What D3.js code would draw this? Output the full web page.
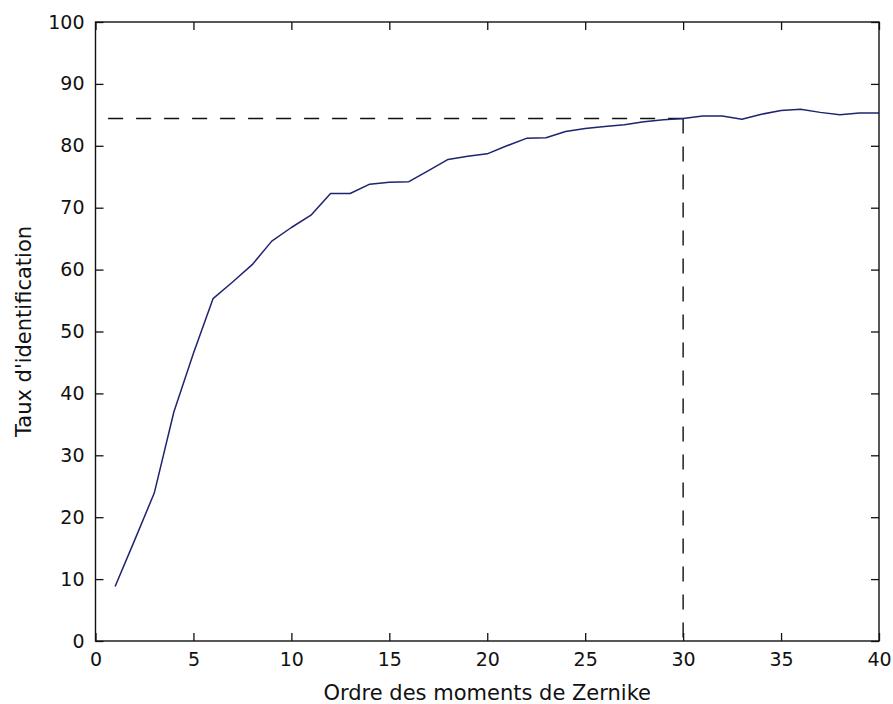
<!DOCTYPE html>
<html>
<head>
<meta charset="utf-8">
<script src="https://cdn.jsdelivr.net/npm/d3@7"></script>
<style>
  html, body { margin: 0; padding: 0; background: #fff; }
  svg { display: block; }
  text { font-family: "DejaVu Sans", "Liberation Sans", Arial, sans-serif; fill: #111; }
</style>
</head>
<body>
<svg id="chart" width="893" height="704"></svg>
<script>
// Zernike moment order vs. identification rate (%)
const orders = [1, 2, 3, 4, 5, 6, 7, 8, 9, 10,
                11, 12, 13, 14, 15, 16, 17, 18, 19, 20,
                21, 22, 23, 24, 25, 26, 27, 28, 29, 30,
                31, 32, 33, 34, 35, 36, 37, 38, 39, 40];
const rates = [8.8, 16.3, 23.9, 37.0, 46.5, 55.3, 58.0, 60.8, 64.6, 66.8,
               68.8, 72.3, 72.3, 73.8, 74.1, 74.2, 76.0, 77.8, 78.3, 78.7,
               80.0, 81.2, 81.3, 82.3, 82.8, 83.1, 83.4, 83.9, 84.2, 84.4,
               84.8, 84.8, 84.3, 85.1, 85.7, 85.9, 85.4, 85.0, 85.3, 85.3];

// Chosen operating point: order 30 reaches about 84.4 %
const markOrder = 30;
const markRate = 84.4;

const xTicks = [0, 5, 10, 15, 20, 25, 30, 35, 40];
const yTicks = [0, 10, 20, 30, 40, 50, 60, 70, 80, 90, 100];

const xTitle = "Ordre des moments de Zernike";
const yTitle = "Taux d'identification";

const svg = d3.select("#chart");
const plotL = 95.5, plotR = 879, plotT = 22, plotB = 641;

const x = d3.scaleLinear().domain([0, 40]).range([plotL, plotR]);
const y = d3.scaleLinear().domain([0, 100]).range([plotB, plotT]);

// Dashed guides to the operating point
const guides = svg.append("g")
  .attr("fill", "none")
  .attr("stroke", "#111")
  .attr("stroke-width", 1.4)
  .attr("stroke-dasharray", "15,13");
guides.append("line")
  .attr("x1", x(markOrder)).attr("y1", y(markRate))
  .attr("x2", x(0)).attr("y2", y(markRate));
guides.append("line")
  .attr("x1", x(markOrder)).attr("y1", y(markRate))
  .attr("x2", x(markOrder)).attr("y2", y(0));

// Data curve
const line = d3.line()
  .x((d, i) => x(orders[i]))
  .y(d => y(d));
svg.append("path")
  .datum(rates)
  .attr("fill", "none")
  .attr("stroke", "#1f2370")
  .attr("stroke-width", 1.5)
  .attr("stroke-linejoin", "round")
  .attr("d", line);

// Axes with inward ticks on all four sides
const tick = 8;
function styleAxis(g) {
  g.select(".domain").remove();
  g.selectAll(".tick line").attr("stroke", "#111").attr("stroke-width", 1.3);
  g.selectAll(".tick text").attr("font-size", 19).attr("fill", "#111");
}
svg.append("g")
  .attr("transform", `translate(0,${plotB})`)
  .call(d3.axisBottom(x).tickValues(xTicks).tickSizeInner(-tick).tickSizeOuter(0).tickPadding(12))
  .call(styleAxis);
svg.append("g")
  .attr("transform", `translate(0,${plotT})`)
  .call(d3.axisTop(x).tickValues(xTicks).tickSizeInner(-tick).tickSizeOuter(0).tickFormat(""))
  .call(styleAxis);
svg.append("g")
  .attr("transform", `translate(${plotL},0)`)
  .call(d3.axisLeft(y).tickValues(yTicks).tickSizeInner(-tick).tickSizeOuter(0).tickPadding(11))
  .call(styleAxis);
svg.append("g")
  .attr("transform", `translate(${plotR},0)`)
  .call(d3.axisRight(y).tickValues(yTicks).tickSizeInner(-tick).tickSizeOuter(0).tickFormat(""))
  .call(styleAxis);

// Plot frame
svg.append("rect")
  .attr("x", plotL).attr("y", plotT)
  .attr("width", plotR - plotL).attr("height", plotB - plotT)
  .attr("fill", "none")
  .attr("stroke", "#111")
  .attr("stroke-width", 1.4);

// Axis titles
svg.append("text")
  .attr("x", (plotL + plotR) / 2)
  .attr("y", 700)
  .attr("text-anchor", "middle")
  .attr("font-size", 21)
  .text(xTitle);
svg.append("text")
  .attr("transform", `translate(31,${(plotT + plotB) / 2}) rotate(-90)`)
  .attr("text-anchor", "middle")
  .attr("font-size", 21)
  .text(yTitle);
</script>
</body>
</html>
